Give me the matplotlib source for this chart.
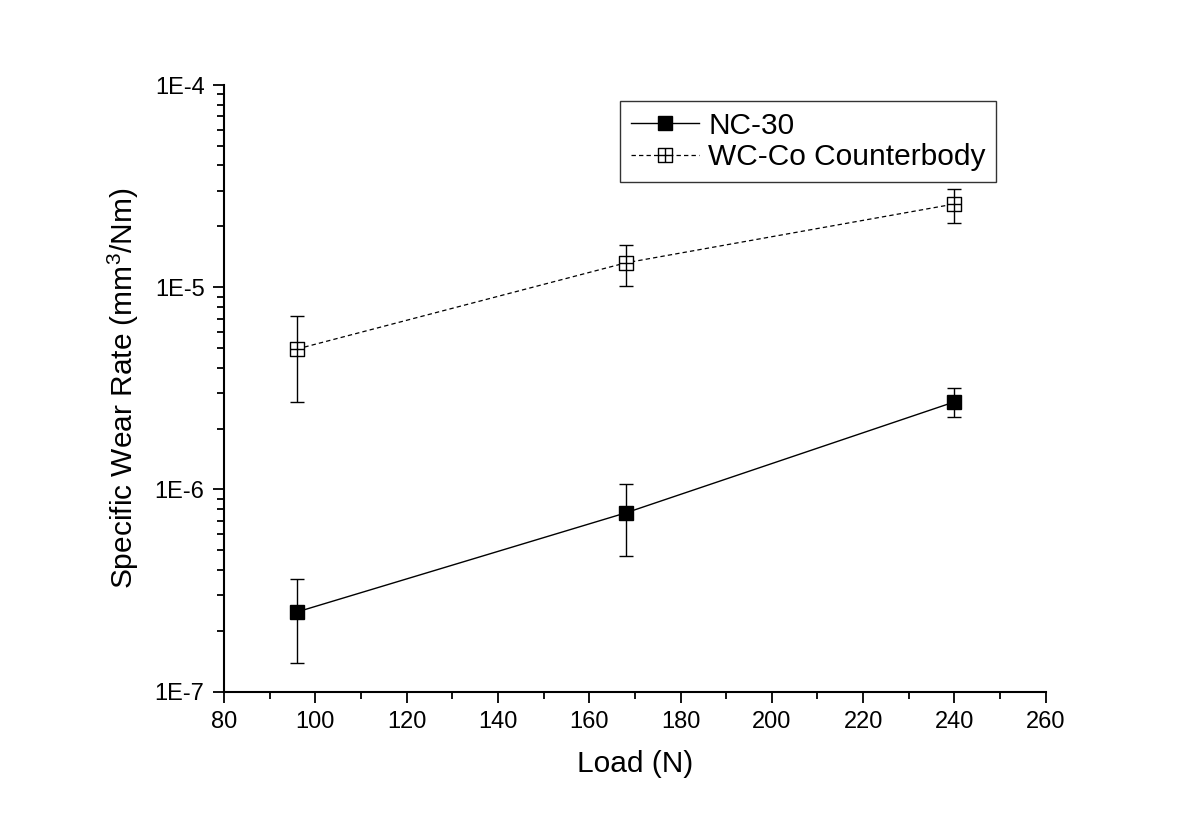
import math
import matplotlib
matplotlib.use("Agg")
import matplotlib.pyplot as plt
from matplotlib.path import Path
from matplotlib.lines import Line2D
from matplotlib.ticker import LogLocator, FuncFormatter, MultipleLocator

plt.rcParams['font.family'] = ['Liberation Sans', 'DejaVu Sans']
plt.rcParams['mathtext.fontset'] = 'custom'
plt.rcParams['mathtext.rm'] = 'Liberation Sans'

# data
load = [96, 168, 240]
nc30 = [2.48e-7, 7.66e-7, 2.71e-6]
nc30_lo = [1.39e-7, 4.69e-7, 2.27e-6]
nc30_hi = [3.6e-7, 1.06e-6, 3.16e-6]
wcco = [4.95e-6, 1.32e-5, 2.58e-5]
wcco_lo = [2.71e-6, 1.01e-5, 2.08e-5]
wcco_hi = [7.2e-6, 1.62e-5, 3.06e-5]

# square with a cross inside
box_cross = Path(
    [(-1, -1), (1, -1), (1, 1), (-1, 1), (-1, -1), (-1, 0), (1, 0), (0, -1), (0, 1)],
    [Path.MOVETO, Path.LINETO, Path.LINETO, Path.LINETO, Path.CLOSEPOLY,
     Path.MOVETO, Path.LINETO, Path.MOVETO, Path.LINETO])

fig = plt.figure(figsize=(12, 8.36), dpi=100)
ax = fig.add_axes([0.1867, 0.1726, 0.6847, 0.7257])

err_nc = [[v - l for v, l in zip(nc30, nc30_lo)], [h - v for v, h in zip(nc30, nc30_hi)]]
err_wc = [[v - l for v, l in zip(wcco, wcco_lo)], [h - v for v, h in zip(wcco, wcco_hi)]]

nc_style = dict(color='black', lw=1, marker='s', ms=9.5, mfc='black', mec='black')
wc_style = dict(color='black', lw=0.9, ls=(0, (3.5, 2.5)), marker=box_cross, ms=10,
                mfc='white', mec='black', mew=1)

ax.errorbar(load, nc30, yerr=err_nc, elinewidth=1, capsize=5, capthick=1, **nc_style)
ax.errorbar(load, wcco, yerr=err_wc, elinewidth=1, capsize=5, capthick=1, **wc_style)

ax.set_yscale('log')
ax.set_xlim(80, 260)
ax.set_ylim(1e-7, 1e-4)
ax.xaxis.set_major_locator(MultipleLocator(20))
ax.xaxis.set_minor_locator(MultipleLocator(10))
ax.yaxis.set_major_locator(LogLocator(base=10, numticks=10))
ax.yaxis.set_minor_locator(LogLocator(base=10, subs=range(2, 10), numticks=10))
ax.yaxis.set_major_formatter(FuncFormatter(lambda v, p: '1E%d' % round(math.log10(v))))
ax.yaxis.set_minor_formatter(FuncFormatter(lambda v, p: ''))

for s in ['top', 'right']:
    ax.spines[s].set_visible(False)
for s in ['left', 'bottom']:
    ax.spines[s].set_linewidth(1.5)
ax.tick_params(which='major', direction='out', length=8, width=1.3, labelsize=17, pad=6)
ax.tick_params(which='minor', direction='out', length=5, width=1.3)

ax.set_xlabel('Load (N)', fontsize=21.5, labelpad=12)
ax.set_ylabel('Specific Wear Rate (mm$^3$/Nm)', fontsize=21.5, labelpad=10)

handles = [Line2D([], [], **nc_style), Line2D([], [], **wc_style)]
leg = ax.legend(handles, ['NC-30', 'WC-Co Counterbody'], loc='upper left',
                bbox_to_anchor=(0.482, 0.973), fontsize=21.5,
                frameon=True, fancybox=False, edgecolor='black', handlelength=2.3,
                borderpad=0.35, labelspacing=0.12, handletextpad=0.3, borderaxespad=0)
leg.get_frame().set_linewidth(1)

fig.savefig('out.png', dpi=100, facecolor='white')
